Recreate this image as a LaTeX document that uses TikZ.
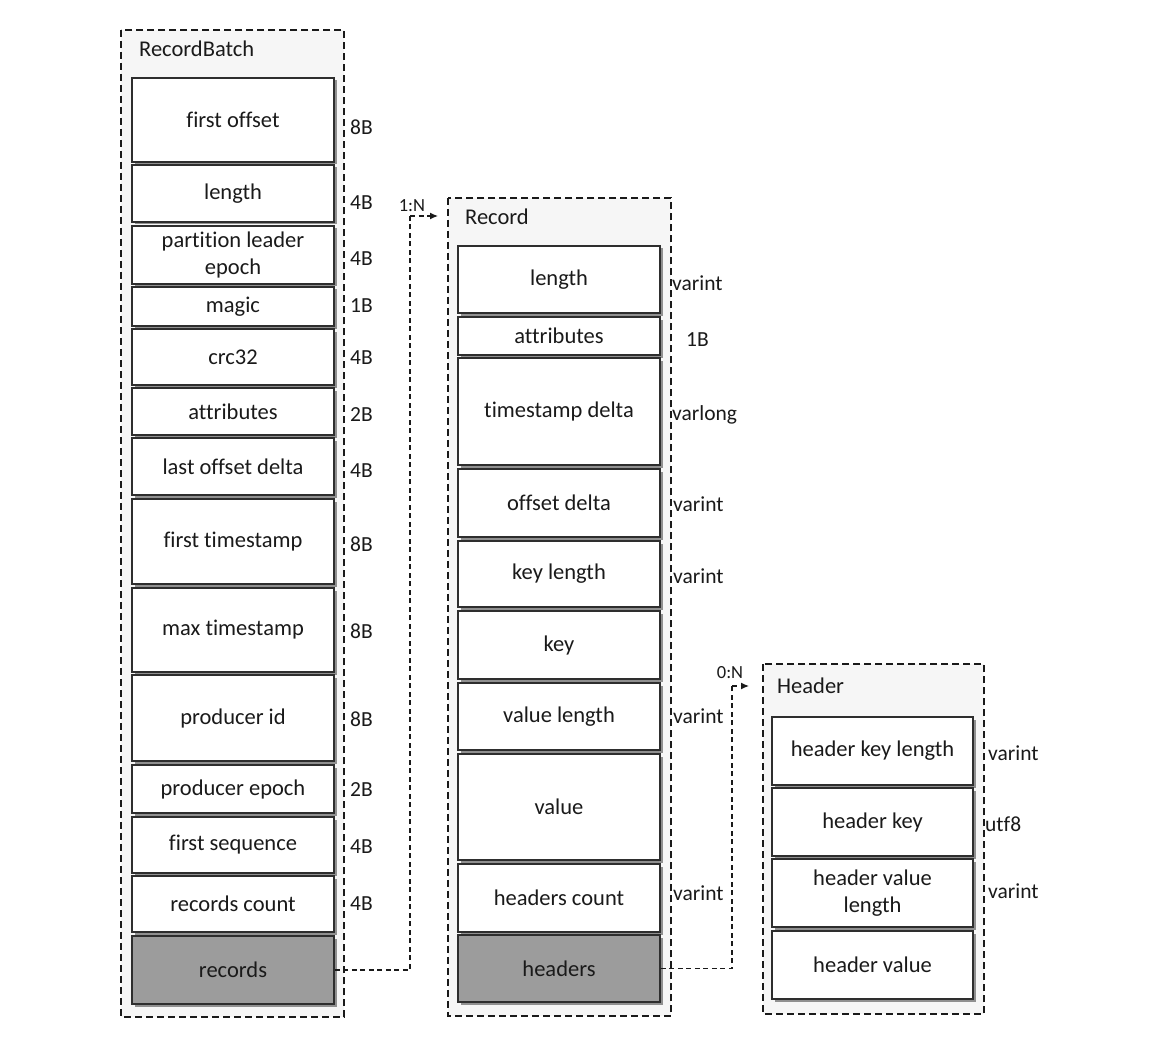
\documentclass[tikz,border=0pt]{standalone}
\usepackage{fontspec}
\setmainfont{Carlito}[Ligatures=NoCommon]
\usetikzlibrary{shadows,arrows.meta}
\definecolor{ink}{HTML}{1A1A1A}
\definecolor{boxline}{HTML}{2E2E2E}
\definecolor{darkfill}{HTML}{9C9C9C}
\definecolor{panel}{HTML}{F6F6F6}
\tikzset{
  panelbox/.style={draw=ink, line width=1.3pt, dash pattern=on 7pt off 4pt, fill=panel},
  fld/.style={draw=boxline, line width=1.8pt, fill=white, minimum width=202pt, inner sep=2pt,
    font=\fontsize{22.5}{27}\selectfont, text=ink, align=center,
    drop shadow={shadow xshift=2.5pt, shadow yshift=-2.5pt, fill=black!60, opacity=0.7}},
  darkfld/.style={fld, fill=darkfill},
  sz/.style={anchor=west, font=\fontsize{21.5}{25}\selectfont, text=ink, inner sep=0pt},
  ttl/.style={anchor=west, font=\fontsize{22.5}{27}\selectfont, text=ink, inner sep=0pt},
  conn/.style={draw=ink, line width=1.3pt, dash pattern=on 5pt off 3.5pt},
  tag/.style={font=\fontsize{18.5}{22}\selectfont, text=ink, inner sep=0pt},
}
\begin{document}
\begin{tikzpicture}[x=1pt, y=-1pt]
\useasboundingbox (0,0) rectangle (1176,1043);
\fill[white] (0,0) rectangle (1176,1043);

% containers
\draw[panelbox] (121,30) rectangle (344,1017);
\draw[panelbox] (448,198) rectangle (671,1016);
\draw[panelbox] (763,664) rectangle (984,1014);
\node[ttl] (tRB) at (139,49) {RecordBatch};
\node[ttl] (tR) at (465,217) {Record};
\node[ttl] (tH) at (777,686) {Header};

% RecordBatch fields
\node[fld, minimum height=84pt] (rb1) at (233,120) {first offset};
\node[fld, minimum height=57pt] (rb2) at (233,193.5) {length};
\node[fld, minimum height=58pt] (rb3) at (233,255) {partition leader\\epoch};
\node[fld, minimum height=39pt] (rb4) at (233,306.5) {magic};
\node[fld, minimum height=56pt] (rb5) at (233,357) {crc32};
\node[fld, minimum height=47pt] (rb6) at (233,411.5) {attributes};
\node[fld, minimum height=57pt] (rb7) at (233,466.5) {last offset delta};
\node[fld, minimum height=85pt] (rb8) at (233,541.5) {first timestamp};
\node[fld, minimum height=84pt] (rb9) at (233,630) {max timestamp};
\node[fld, minimum height=86pt] (rb10) at (233,718) {producer id};
\node[fld, minimum height=48pt] (rb11) at (233,789) {producer epoch};
\node[fld, minimum height=56pt] (rb12) at (233,845) {first sequence};
\node[fld, minimum height=56pt] (rb13) at (233,904) {records count};
\node[darkfld, minimum height=68pt] (rb14) at (233,970) {records};

\node[sz] (s1) at (350,127) {8B};
\node[sz] (s2) at (350,203) {4B};
\node[sz] (s3) at (350,259) {4B};
\node[sz] (s4) at (350,306) {1B};
\node[sz] (s5) at (350,358) {4B};
\node[sz] (s6) at (350,415) {2B};
\node[sz] (s7) at (350,471) {4B};
\node[sz] (s8) at (350,544) {8B};
\node[sz] (s9) at (350,631) {8B};
\node[sz] (s10) at (350,719) {8B};
\node[sz] (s11) at (350,790) {2B};
\node[sz] (s12) at (350,847) {4B};
\node[sz] (s13) at (350,904) {4B};

% Record fields
\node[fld, minimum height=67pt] (r1) at (559,279.5) {length};
\node[fld, minimum height=38pt] (r2) at (559,336) {attributes};
\node[fld, minimum height=107pt] (r3) at (559,411.5) {timestamp delta};
\node[fld, minimum height=68pt] (r4) at (559,503) {offset delta};
\node[fld, minimum height=66pt] (r5) at (559,574) {key length};
\node[fld, minimum height=68pt] (r6) at (559,645) {key};
\node[fld, minimum height=67pt] (r7) at (559,716.5) {value length};
\node[fld, minimum height=106pt] (r8) at (559,807) {value};
\node[fld, minimum height=68pt] (r9) at (559,898) {headers count};
\node[darkfld, minimum height=67pt] (r10) at (559,968.5) {headers};

\node[sz] (v1) at (672,283) {varint};
\node[sz] (v2) at (686,340) {1B};
\node[sz] (v3) at (672,415) {varlong};
\node[sz] (v4) at (673,504) {varint};
\node[sz] (v5) at (673,576) {varint};
\node[sz] (v6) at (673,716) {varint};
\node[sz] (v7) at (673,893) {varint};

% Header fields
\node[fld, minimum width=201pt, minimum height=68pt] (h1) at (872.5,751) {header key length};
\node[fld, minimum width=201pt, minimum height=68pt] (h2) at (872.5,822) {header key};
\node[fld, minimum width=201pt, minimum height=68pt] (h3) at (872.5,893) {header value\\length};
\node[fld, minimum width=201pt, minimum height=68pt] (h4) at (872.5,965) {header value};

\node[sz] (w1) at (988,753) {varint};
\node[sz] (w2) at (985,824) {utf8};
\node[sz] (w3) at (988,891) {varint};

% connectors
\coordinate (k1) at (410,216);
\coordinate (t1) at (438,216);
\draw[conn] (rb14.east) -| (k1);
\draw[conn, -{Latex[length=8pt,width=7pt]}] (k1) -- (t1);
\node[tag] (n1) at (412,206) {1:N};

\coordinate (k2) at (732,686);
\coordinate (t2) at (749,686);
\draw[conn] (r10.east) -| (k2);
\draw[conn, -{Latex[length=8pt,width=7pt]}] (k2) -- (t2);
\node[tag] (n2) at (730,673) {0:N};
\end{tikzpicture}
\end{document}
